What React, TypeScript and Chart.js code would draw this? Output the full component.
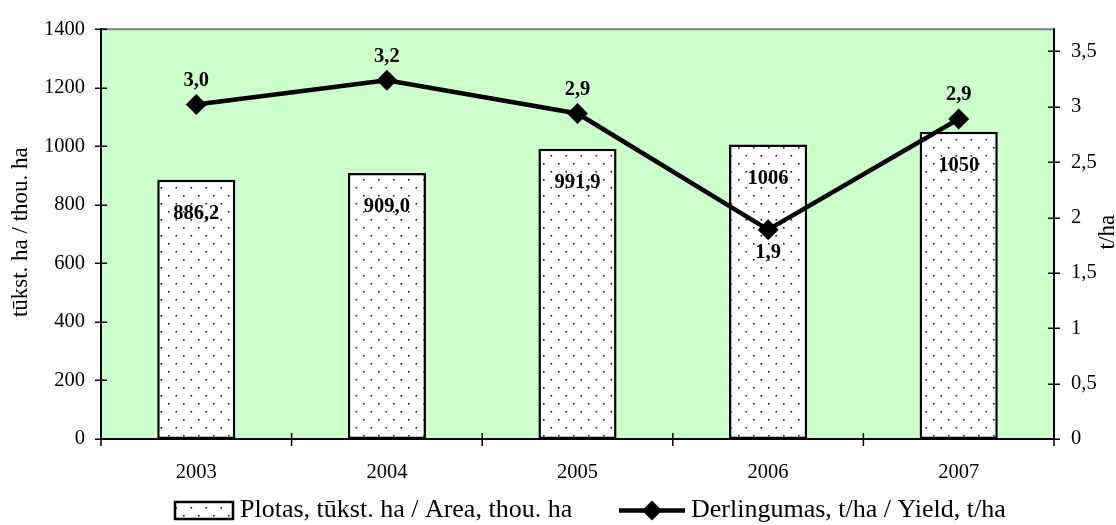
import React, { useEffect, useRef } from "react";
import { Chart, registerables } from "chart.js";

Chart.register(...registerables);

const years = ["2003", "2004", "2005", "2006", "2007"];
const areaValues = [886.2, 909.0, 991.9, 1006, 1050];
const areaLabels = ["886,2", "909,0", "991,9", "1006", "1050"];
const yieldValues = [3.02, 3.24, 2.94, 1.89, 2.89];
const yieldLabelSide = ["above", "above", "above", "below", "above"];
const leftTicks = [0, 200, 400, 600, 800, 1000, 1200, 1400];
const rightTicks = [0, 0.5, 1, 1.5, 2, 2.5, 3, 3.5];
const areaName = "Plotas, tūkst. ha / Area, thou. ha";
const yieldName = "Derlingumas, t/ha / Yield, t/ha";
const leftTitle = "tūkst. ha / thou. ha";
const rightTitle = "t/ha";

const FAMILY = '"Liberation Serif", "Times New Roman", serif';
const TICK_SIZE = 20.5;
const TITLE_SIZE = 23;
const LEGEND_SIZE = 26;

function makePattern(): CanvasPattern | string {
  const c = document.createElement("canvas");
  c.width = 15;
  c.height = 16;
  const g = c.getContext("2d");
  if (!g) return "#fff";
  g.fillStyle = "#ffffff";
  g.fillRect(0, 0, 15, 16);
  g.fillStyle = "#222222";
  g.fillRect(3, 3, 1.6, 1.6);
  g.fillRect(10.5, 11, 1.6, 1.6);
  const p = g.createPattern(c, "repeat");
  return p || "#fff";
}

function drawDiamond(ctx: CanvasRenderingContext2D, x: number, y: number, r: number) {
  ctx.beginPath();
  ctx.moveTo(x, y - r);
  ctx.lineTo(x + r, y);
  ctx.lineTo(x, y + r);
  ctx.lineTo(x - r, y);
  ctx.closePath();
  ctx.fill();
}

export default function App() {
  const ref = useRef<HTMLCanvasElement | null>(null);

  useEffect(() => {
    if (!ref.current) return;
    const pattern = makePattern();

    const framePlugin = {
      id: "frame",
      beforeDatasetsDraw(chart: any) {
        const { ctx, chartArea: a } = chart;
        ctx.save();
        ctx.fillStyle = "#CCFFCC";
        ctx.fillRect(a.left, a.top, a.right - a.left, a.bottom - a.top);
        ctx.restore();
      },
      afterDatasetsDraw(chart: any) {
        const { ctx, chartArea: a, scales } = chart;
        ctx.save();
        ctx.strokeStyle = "#808080";
        ctx.lineWidth = 2;
        ctx.beginPath();
        ctx.moveTo(a.left, a.top);
        ctx.lineTo(a.right, a.top);
        ctx.stroke();
        ctx.strokeStyle = "#000";
        ctx.lineWidth = 2;
        ctx.beginPath();
        ctx.moveTo(a.left, a.top - 1);
        ctx.lineTo(a.left, a.bottom);
        ctx.moveTo(a.right, a.top - 1);
        ctx.lineTo(a.right, a.bottom);
        ctx.moveTo(a.left, a.bottom);
        ctx.lineTo(a.right, a.bottom);
        ctx.stroke();
        ctx.lineWidth = 1.5;
        ctx.beginPath();
        for (const v of leftTicks) {
          const y = Math.round(scales.y.getPixelForValue(v)) + 0.25;
          ctx.moveTo(a.left - 6, y);
          ctx.lineTo(a.left + 6, y);
        }
        for (const v of rightTicks) {
          const y = Math.round(scales.y1.getPixelForValue(v)) + 0.25;
          ctx.moveTo(a.right - 6, y);
          ctx.lineTo(a.right + 6, y);
        }
        const n = years.length;
        for (let i = 0; i <= n; i++) {
          let x;
          if (i === 0) x = a.left;
          else if (i === n) x = a.right;
          else x = (scales.x.getPixelForValue(i - 1) + scales.x.getPixelForValue(i)) / 2;
          ctx.moveTo(x, a.bottom - 6);
          ctx.lineTo(x, a.bottom + 7);
        }
        ctx.stroke();
        ctx.restore();
      },
      afterDraw(chart: any) {
        const { ctx, chartArea: a } = chart;
        ctx.save();
        ctx.fillStyle = "#000";
        ctx.font = `bold ${TICK_SIZE}px ${FAMILY}`;
        ctx.textAlign = "center";
        ctx.textBaseline = "middle";
        const barMeta = chart.getDatasetMeta(1);
        barMeta.data.forEach((el: any, i: number) => {
          ctx.fillText(areaLabels[i], el.x, el.y + 34);
        });
        const lineMeta = chart.getDatasetMeta(0);
        lineMeta.data.forEach((el: any, i: number) => {
          const dy = yieldLabelSide[i] === "below" ? 23 : -24;
          ctx.fillText(yieldValues[i].toFixed(1).replace(".", ","), el.x, el.y + dy);
        });

        ctx.font = `${TITLE_SIZE}px ${FAMILY}`;
        const midY = (a.top + a.bottom) / 2;
        ctx.save();
        ctx.translate(21, midY - 2);
        ctx.rotate(-Math.PI / 2);
        ctx.fillText(leftTitle, 0, 0);
        ctx.restore();
        ctx.save();
        ctx.translate(chart.width - 8, midY - 2);
        ctx.rotate(-Math.PI / 2);
        ctx.fillText(rightTitle, 0, 0);
        ctx.restore();

        const ly = 510.5;
        ctx.fillStyle = pattern as any;
        ctx.fillRect(175, 502, 58, 17);
        ctx.strokeStyle = "#000";
        ctx.lineWidth = 2.5;
        ctx.strokeRect(175, 502, 58, 17);
        ctx.fillStyle = "#000";
        ctx.font = `${LEGEND_SIZE}px ${FAMILY}`;
        ctx.textAlign = "left";
        ctx.fillText(areaName, 240, ly);
        ctx.lineWidth = 4.5;
        ctx.beginPath();
        ctx.moveTo(619, ly);
        ctx.lineTo(685, ly);
        ctx.stroke();
        drawDiamond(ctx, 652, ly, 10);
        ctx.fillText(yieldName, 691, ly);
        ctx.restore();
      },
    };

    const chart = new Chart(ref.current, {
      type: "bar",
      data: {
        labels: years,
        datasets: [
          {
            type: "line",
            label: yieldName,
            data: yieldValues,
            yAxisID: "y1",
            borderColor: "#000",
            backgroundColor: "#000",
            borderWidth: 4.5,
            pointStyle: "rectRot",
            pointRadius: 10.5,
            pointBackgroundColor: "#000",
            pointBorderColor: "#000",
            pointBorderWidth: 0,
            tension: 0,
            order: 0,
          } as any,
          {
            type: "bar",
            label: areaName,
            data: areaValues,
            yAxisID: "y",
            backgroundColor: pattern as any,
            borderColor: "#000",
            borderWidth: 2.5,
            borderSkipped: false,
            barPercentage: 0.41,
            categoryPercentage: 1,
            order: 1,
          } as any,
        ],
      },
      options: {
        responsive: true,
        maintainAspectRatio: false,
        animation: false,
        layout: { padding: { top: 24, bottom: 46, left: 0, right: 0 } },
        plugins: { legend: { display: false }, tooltip: { enabled: false } },
        scales: {
          x: {
            grid: { display: false, drawTicks: false },
            border: { display: false },
            ticks: { color: "#000", font: { family: FAMILY, size: TICK_SIZE }, padding: 21 },
            afterFit: (s: any) => {
              s.height = 40;
            },
          },
          y: {
            position: "left",
            min: 0,
            max: 1400,
            grid: { display: false, drawTicks: false },
            border: { display: false },
            afterBuildTicks: (s: any) => {
              s.ticks = leftTicks.map((v) => ({ value: v }));
            },
            ticks: {
              color: "#000",
              font: { family: FAMILY, size: TICK_SIZE },
              padding: 16,
              callback: (v: any) => String(v),
            },
            afterFit: (s: any) => {
              s.width = 101;
            },
          },
          y1: {
            position: "right",
            min: 0,
            max: 3.7,
            grid: { display: false, drawTicks: false },
            border: { display: false },
            afterBuildTicks: (s: any) => {
              s.ticks = rightTicks.map((v) => ({ value: v }));
            },
            ticks: {
              color: "#000",
              font: { family: FAMILY, size: TICK_SIZE },
              padding: 17,
              callback: (v: any) => String(v).replace(".", ","),
            },
            afterFit: (s: any) => {
              s.width = 62;
            },
          },
        },
      } as any,
      plugins: [framePlugin],
    });
    return () => chart.destroy();
  }, []);

  return (
    <div style={{ position: "absolute", left: 0, top: 0, width: 1116, height: 525 }}>
      <canvas ref={ref} />
    </div>
  );
}
